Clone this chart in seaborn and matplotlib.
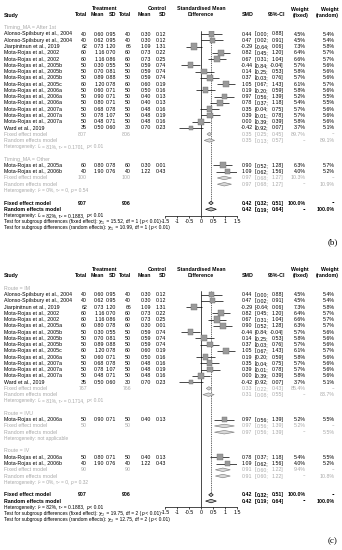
import numpy as np
import pandas as pd
import matplotlib
matplotlib.use("Agg")
import matplotlib.pyplot as plt
import seaborn as sns
from matplotlib.patches import Polygon

sns.set_theme(style="white")
plt.rcParams['font.family'] = ['Liberation Sans', 'DejaVu Sans']
plt.rcParams['axes.unicode_minus'] = False

# ---------------- data ----------------
study = ["Alonso-Spilsbury et al., 2004", "Alonso-Spilsbury et al., 2004", "Jiarpinitnun et al., 2019",
         "Mota-Rojas et al., 2002", "Mota-Rojas et al., 2002", "Mota-Rojas et al., 2005a",
         "Mota-Rojas et al., 2005b", "Mota-Rojas et al., 2005b", "Mota-Rojas et al., 2005b",
         "Mota-Rojas et al., 2005c", "Mota-Rojas et al., 2006a", "Mota-Rojas et al., 2006a",
         "Mota-Rojas et al., 2006a", "Mota-Rojas et al., 2006b", "Mota-Rojas et al., 2007a",
         "Mota-Rojas et al., 2007a", "Mota-Rojas et al., 2007a", "Ward et al., 2019"]
n_t = [40, 40, 62, 60, 60, 60, 50, 50, 50, 60, 50, 50, 50, 40, 50, 50, 50, 35]
mean_t = [0.60, 0.62, 0.73, 1.16, 1.16, 0.80, 0.30, 0.70, 0.89, 1.20, 0.60, 0.90, 0.80, 1.90, 0.68, 0.78, 0.48, 0.50]
sd_t = [0.95, 0.95, 1.20, 0.70, 0.86, 0.78, 0.55, 0.81, 0.88, 0.78, 0.71, 0.71, 0.71, 0.76, 0.78, 1.07, 0.71, 0.60]
n_c = [40, 40, 66, 60, 60, 60, 50, 50, 50, 60, 50, 50, 50, 40, 50, 50, 50, 30]
mean_c = [0.30, 0.30, 1.09, 0.73, 0.73, 0.30, 0.59, 0.59, 0.59, 0.60, 0.50, 0.40, 0.40, 1.22, 0.48, 0.48, 0.48, 0.70]
sd_c = [0.12, 0.12, 1.31, 0.22, 0.25, 0.01, 0.74, 0.74, 0.74, 0.19, 0.16, 0.13, 0.13, 0.43, 0.16, 0.19, 0.16, 0.23]
smd = [0.44, 0.47, -0.29, 0.82, 0.67, 0.90, -0.44, 0.14, 0.37, 1.05, 0.19, 0.97, 0.78, 1.09, 0.35, 0.39, 0.00, -0.42]
ci_lo = [0.00, 0.02, -0.64, 0.45, 0.31, 0.52, -0.84, -0.25, -0.03, 0.67, -0.20, 0.56, 0.37, 0.62, -0.04, -0.01, -0.39, -0.92]
ci_hi = [0.88, 0.91, 0.06, 1.20, 1.04, 1.28, -0.04, 0.53, 0.76, 1.43, 0.59, 1.39, 1.18, 1.56, 0.75, 0.78, 0.39, 0.07]
w_fixed = [4.5, 4.5, 7.3, 6.4, 6.6, 6.3, 5.7, 5.8, 5.7, 6.1, 5.8, 5.2, 5.4, 4.0, 5.7, 5.7, 5.8, 3.7]
w_random = [5.4, 5.4, 5.8, 5.7, 5.7, 5.7, 5.6, 5.6, 5.6, 5.7, 5.6, 5.5, 5.5, 5.2, 5.6, 5.6, 5.6, 5.1]

# panel (b): subgroups by timing
groups_b = ["Timing_MA = After 1st", "Timing_MA = Other"]
members_b = [[0, 1, 2, 3, 4, 6, 7, 8, 9, 10, 11, 12, 14, 15, 16, 17], [5, 13]]
sub_nt_b = [807, 100]
sub_nc_b = [806, 100]
sub_fix_b = [0.35, 0.97]
sub_fix_lo_b = [0.25, 0.68]
sub_fix_hi_b = [0.45, 1.27]
sub_ran_b = [0.35, 0.97]
sub_ran_lo_b = [0.13, 0.68]
sub_ran_hi_b = [0.57, 1.27]
sub_wf_b = [89.7, 10.3]
sub_wr_b = [89.1, 10.9]
sub_i2_b = ["81%", "0%"]
sub_tau2_b = ["0.1701", "0"]
sub_p_b = ["< 0.01", "= 0.54"]
test_chi2_b = ["15.52", "10.99"]
test_df_b = 1

# panel (c): subgroups by route
groups_c = ["Route = IM", "Route = IVU", "Route = IV"]
members_c = [[0, 1, 2, 3, 4, 5, 6, 7, 8, 9, 10, 14, 15, 16, 17], [11], [12, 13]]
sub_nt_c = [767, 50, 90]
sub_nc_c = [766, 50, 90]
sub_fix_c = [0.33, 0.97, 0.91]
sub_fix_lo_c = [0.22, 0.56, 0.60]
sub_fix_hi_c = [0.43, 1.39, 1.22]
sub_ran_c = [0.31, 0.97, 0.91]
sub_ran_lo_c = [0.08, 0.56, 0.60]
sub_ran_hi_c = [0.55, 1.39, 1.22]
sub_wf_c = [85.4, 5.2, 9.4]
sub_wr_c = [83.7, 5.5, 10.8]
sub_i2_c = ["81%", None, "0%"]
sub_tau2_c = ["0.1714", None, "0"]
sub_p_c = ["< 0.01", None, "= 0.32"]
test_chi2_c = ["19.75", "12.75"]
test_df_c = 2

# overall
tot_nt, tot_nc = 907, 906
tot_fix, tot_fix_lo, tot_fix_hi = 0.42, 0.32, 0.51
tot_ran, tot_ran_lo, tot_ran_hi = 0.42, 0.19, 0.64
tot_i2, tot_tau2, tot_p = "82%", "0.1883", "< 0.01"
ticks = [-1.5, -1, -0.5, 0, 0.5, 1, 1.5]

# ---------------- layout ----------------
W, H = 342, 550
FS = 3.75
FS_SMALL = 3.5
GRAY = "#a9a9a9"
ROW = 6.26
X0PX, UNIT = 201.0, 24.0          # pixel of SMD=0, pixels per SMD unit
COL_STUDY = 4
COL_TT, COL_TM, COL_TS = 87, 104.5, 116
COL_CT, COL_CM, COL_CS = 131, 151, 166.5
COL_SMD = 252.5
COL_CIB, COL_CIL, COL_CIH = 254.3, 268.8, 283.5
COL_WF, COL_WR = 306, 335
SUBS = {1: "\u2081", 2: "\u2082"}

fig = plt.figure(figsize=(W / 100, H / 100), dpi=100)
tx = fig.add_axes([0, 0, 1, 1])
tx.set_xlim(0, W)
tx.set_ylim(H, 0)
tx.axis("off")


def fmt(v):
    return f"{v:.2f}"


def t(x, y, s, ha="left", color="black", weight="normal", size=FS, **kw):
    return tx.text(x, y, s, ha=ha, va="center", color=color, fontweight=weight, fontsize=size, **kw)


def rich(x, y, pieces, color="black", size=FS_SMALL):
    # baseline placed so that the run is centred on the row like the other texts
    em = size * 100 / 72
    yb = y + 0.26 * em
    prev = None
    for s, style in pieces:
        kw = dict(color=color, fontsize=size, fontstyle=style)
        if prev is None:
            prev = tx.text(x, yb, s, ha="left", va="baseline", **kw)
        else:
            prev = tx.annotate(s, xy=(1, yb), xycoords=(prev, "data"), ha="left", va="baseline", **kw)


def het_pieces(i2, tau2, p):
    if i2 is None:
        return [("Heterogeneity: not applicable", "normal")]
    return [("Heterogeneity: ", "normal"), ("I", "italic"),
            (f"\u00b2 = {i2}, \u03c4\u00b2 = {tau2}, ", "normal"), ("p", "italic"), (f" {p}", "normal")]


def test_pieces(kind, chi2, df):
    return [(f"Test for subgroup differences ({kind}): ", "normal"),
            ("\u03c7\u00b2" + SUBS[df], "normal"),
            (f" = {chi2}, df = {df} (", "normal"), ("p", "italic"), (" < 0.01)", "normal")]


def ci_text(y, lo, hi, color="black", weight="normal"):
    t(COL_CIB, y, "[", color=color, weight=weight)
    t(COL_CIL, y, fmt(lo) + ";", ha="right", color=color, weight=weight)
    t(COL_CIH, y, fmt(hi) + "]", ha="right", color=color, weight=weight)


def diamond(ax, est, lo, hi, r, face, edge, h=0.28):
    ax.add_patch(Polygon([(lo, r), (est, r - h), (hi, r), (est, r + h)], closed=True,
                         facecolor=face, edgecolor=edge, lw=0.45, clip_on=False, zorder=3))


def panel(y0, groups, members, snt, snc, sfix, sfl, sfh, sran, srl, srh, swf, swr,
          si2, stau2, sp, chi2, df_test, label, label_y):
    def yr(r):
        return y0 + r * ROW

    # headers
    h1, h2 = y0 - 25, y0 - 19
    t(COL_TM, h1, "Treatment", ha="center", weight="bold")
    t(COL_CM + 6, h1, "Control", ha="center", weight="bold")
    t(COL_STUDY, h2, "Study", weight="bold")
    for x, s in [(COL_TT, "Total"), (COL_TM, "Mean"), (COL_TS, "SD"),
                 (COL_CT, "Total"), (COL_CM, "Mean"), (COL_CS, "SD")]:
        t(x, h2, s, ha="right", weight="bold")
    t(X0PX, h1, "Standardised Mean", ha="center", weight="bold")
    t(X0PX, h2, "Difference", ha="center", weight="bold")
    t(COL_SMD + 1.5, h2, "SMD", ha="right", weight="bold")
    t(COL_CIH + 1.5, h2, "95%-CI", ha="right", weight="bold")
    t(COL_WF + 3, h1, "Weight", ha="right", weight="bold")
    t(COL_WF + 3, h2, "(fixed)", ha="right", weight="bold")
    t(COL_WR + 4, h1, "Weight", ha="right", weight="bold")
    t(COL_WR + 4, h2, "(random)", ha="right", weight="bold")

    rows_s, idx_s = [], []
    sub_rows = []
    r = -1
    for g, mem in enumerate(members):
        t(COL_STUDY, yr(r), groups[g], color=GRAY)
        r += 1
        for i in mem:
            rows_s.append(r)
            idx_s.append(i)
            y = yr(r)
            t(COL_STUDY, y, study[i])
            t(COL_TT, y, str(n_t[i]), ha="right")
            t(COL_TM, y, fmt(mean_t[i]), ha="right")
            t(COL_TS, y, fmt(sd_t[i]), ha="right")
            t(COL_CT, y, str(n_c[i]), ha="right")
            t(COL_CM, y, fmt(mean_c[i]), ha="right")
            t(COL_CS, y, fmt(sd_c[i]), ha="right")
            t(COL_SMD, y, fmt(smd[i]), ha="right")
            ci_text(y, ci_lo[i], ci_hi[i])
            t(COL_WF, y, f"{w_fixed[i]:.1f}%", ha="right")
            t(COL_WR, y, f"{w_random[i]:.1f}%", ha="right")
            r += 1
        # subgroup fixed
        y = yr(r)
        t(COL_STUDY, y, "Fixed effect model", color=GRAY)
        t(COL_TT, y, str(snt[g]), ha="right", color=GRAY)
        t(COL_CT, y, str(snc[g]), ha="right", color=GRAY)
        t(COL_SMD, y, fmt(sfix[g]), ha="right", color=GRAY)
        ci_text(y, sfl[g], sfh[g], color=GRAY)
        t(COL_WF, y, f"{swf[g]:.1f}%", ha="right", color=GRAY)
        t(COL_WR, y, "--", ha="right", color=GRAY)
        sub_rows.append((r, sfix[g], sfl[g], sfh[g]))
        r += 1
        y = yr(r)
        t(COL_STUDY, y, "Random effects model", color=GRAY)
        t(COL_SMD, y, fmt(sran[g]), ha="right", color=GRAY)
        ci_text(y, srl[g], srh[g], color=GRAY)
        t(COL_WF, y, "--", ha="right", color=GRAY)
        t(COL_WR, y, f"{swr[g]:.1f}%", ha="right", color=GRAY)
        sub_rows.append((r, sran[g], srl[g], srh[g]))
        r += 1
        rich(COL_STUDY, yr(r), het_pieces(si2[g], stau2[g], sp[g]), color=GRAY)
        r += 2
    # overall
    rf = r
    y = yr(rf)
    t(COL_STUDY, y, "Fixed effect model", weight="bold")
    t(COL_TT, y, str(tot_nt), ha="right", weight="bold")
    t(COL_CT, y, str(tot_nc), ha="right", weight="bold")
    t(COL_SMD, y, fmt(tot_fix), ha="right", weight="bold")
    ci_text(y, tot_fix_lo, tot_fix_hi, weight="bold")
    t(COL_WF, y, "100.0%", ha="right", weight="bold")
    t(COL_WR, y, "--", ha="right", weight="bold")
    y = yr(rf + 1)
    t(COL_STUDY, y, "Random effects model", weight="bold")
    t(COL_SMD, y, fmt(tot_ran), ha="right", weight="bold")
    ci_text(y, tot_ran_lo, tot_ran_hi, weight="bold")
    t(COL_WF, y, "--", ha="right", weight="bold")
    t(COL_WR, y, "100.0%", ha="right", weight="bold")
    rich(COL_STUDY, yr(rf + 2), het_pieces(tot_i2, tot_tau2, tot_p))
    rich(COL_STUDY, yr(rf + 3), test_pieces("fixed effect", chi2[0], df_test))
    rich(COL_STUDY, yr(rf + 4), test_pieces("random effects", chi2[1], df_test))
    tx.text(333, label_y, label, ha="center", va="center", fontsize=6.5,
            family=["Liberation Serif"], color="black")

    # forest axes
    top_px, bot_px = yr(-0.5), yr(rf + 2)
    left_px = X0PX + ticks[0] * UNIT
    width_px = (ticks[-1] - ticks[0]) * UNIT
    ax = fig.add_axes([left_px / W, 1 - bot_px / H, width_px / W, (bot_px - top_px) / H])
    ax.set_xlim(ticks[0], ticks[-1])
    ax.set_ylim(rf + 2, -0.5)
    ax.patch.set_alpha(0)
    for spn in ["left", "right", "top"]:
        ax.spines[spn].set_visible(False)
    ax.spines["bottom"].set_linewidth(0.5)
    ax.spines["bottom"].set_color("black")
    ax.set_yticks([])
    ax.set_xticks(ticks)
    ax.set_xticklabels([f"{v:g}" for v in ticks])
    ax.tick_params(axis="x", length=1.4, width=0.5, pad=0.8, labelsize=FS, colors="black",
                   bottom=True, direction="out")

    ax.axvline(0, color="black", lw=0.5, zorder=1)
    ax.plot([tot_fix, tot_fix], [-0.5, rf - 0.35], color="black", lw=0.4, ls=(0, (2.5, 1.5)), zorder=1)

    df = pd.DataFrame({"smd": [smd[i] for i in idx_s], "row": rows_s,
                       "lo": [ci_lo[i] for i in idx_s], "hi": [ci_hi[i] for i in idx_s],
                       "w": [w_fixed[i] for i in idx_s]})
    ax.hlines(df["row"], df["lo"], df["hi"], color="black", lw=0.5, zorder=2)
    sns.scatterplot(data=df, x="smd", y="row", size="w", sizes=(0, 22), size_norm=(0, 7.3),
                    marker="s", color="#9a9a9a", edgecolor="#707070", linewidth=0.3,
                    legend=False, ax=ax, zorder=3)
    ax.set_xlabel("")
    ax.set_ylabel("")
    for (rr, est, lo, hi) in sub_rows:
        diamond(ax, est, lo, hi, rr, "#d9d9d9", "#808080")
    diamond(ax, tot_fix, tot_fix_lo, tot_fix_hi, rf, "#bebebe", "black")
    diamond(ax, tot_ran, tot_ran_lo, tot_ran_hi, rf + 1, "#bebebe", "black")


panel(34.0, groups_b, members_b, sub_nt_b, sub_nc_b, sub_fix_b, sub_fix_lo_b, sub_fix_hi_b,
      sub_ran_b, sub_ran_lo_b, sub_ran_hi_b, sub_wf_b, sub_wr_b,
      sub_i2_b, sub_tau2_b, sub_p_b, test_chi2_b, test_df_b, "(b)", 242)
panel(294.5, groups_c, members_c, sub_nt_c, sub_nc_c, sub_fix_c, sub_fix_lo_c, sub_fix_hi_c,
      sub_ran_c, sub_ran_lo_c, sub_ran_hi_c, sub_wf_c, sub_wr_c,
      sub_i2_c, sub_tau2_c, sub_p_c, test_chi2_c, test_df_c, "(c)", 541)

fig.savefig("out.png", dpi=100, facecolor="white")
